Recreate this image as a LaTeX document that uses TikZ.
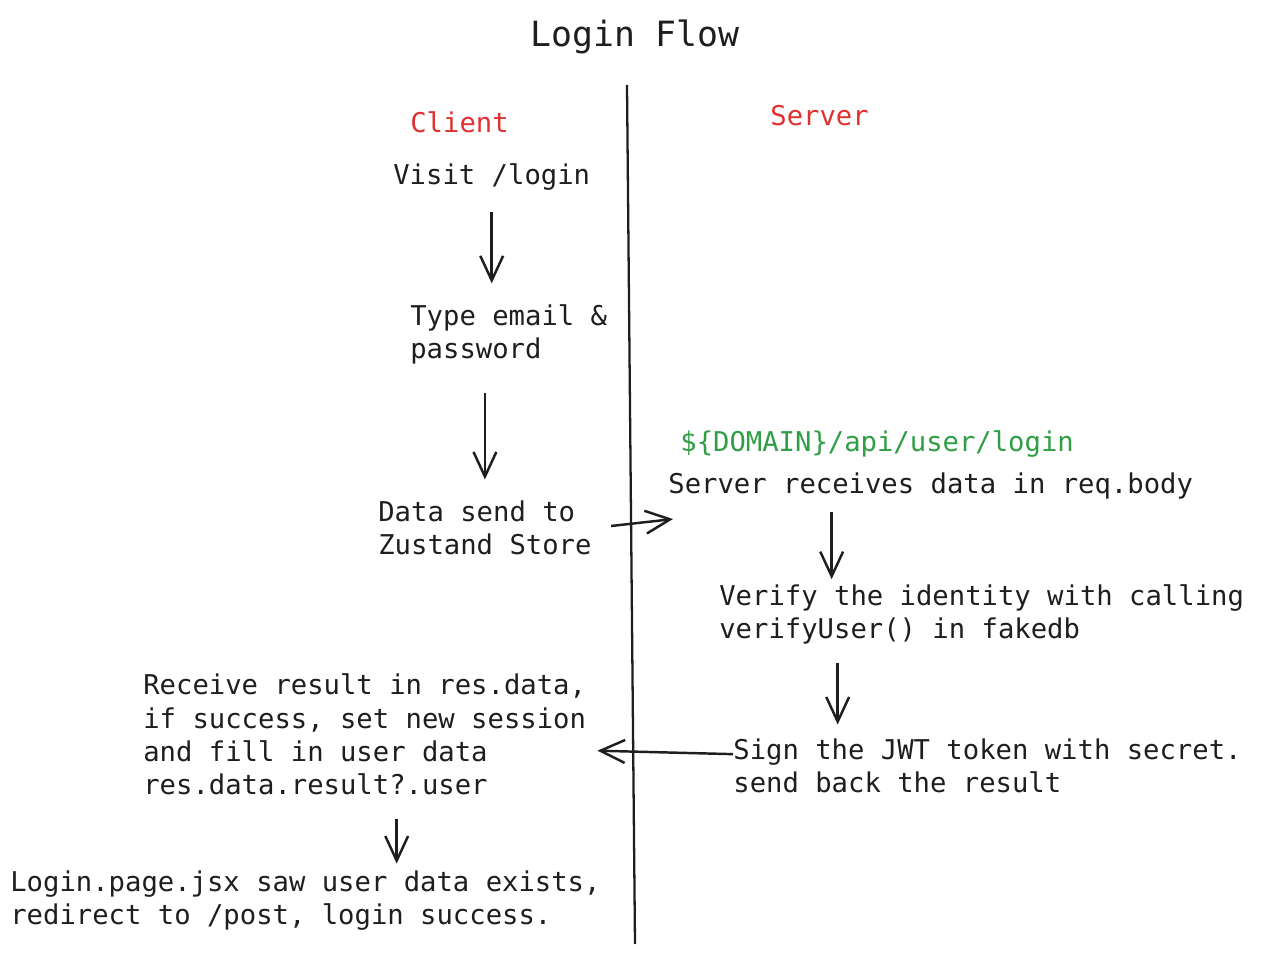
\documentclass[tikz,border=0pt]{standalone}
\usepackage{fontspec}
\setmonofont{DejaVu Sans Mono}
\usepackage{xcolor}
\usepackage{tikz}
\usetikzlibrary{positioning,arrows.meta}

\definecolor{inkblack}{HTML}{1E1E1E}
\definecolor{sidered}{HTML}{E03131}
\definecolor{apigreen}{HTML}{2F9E44}

\tikzset{
  txt/.style={inner sep=0pt, anchor=base west, align=left, text=inkblack,
    font=\ttfamily\fontsize{15.5}{19}\selectfont},
  flow/.style={-{Straight Barb[length=14pt,width=13pt]}, line width=1.4pt, draw=inkblack}
}

\begin{document}
\begin{tikzpicture}[x=0.02cm,y=-0.02cm]
\useasboundingbox (0,0) rectangle (1269,955);

% Title
\node[inner sep=0pt, anchor=base, text=inkblack, font=\ttfamily\fontsize{19.8}{24}\selectfont] (title) at (635,47) {Login Flow};

% Divider
\coordinate (divtop) at (627,85);
\coordinate (divbot) at (635,944);
\draw[inkblack, line width=1.3pt] (divtop) -- (divbot);

% Sides
\node[txt, text=sidered] (client) at (410,133) {Client};
\node[txt, text=sidered] (server) at (770,126) {Server};

% Client steps (base = last line)
\node[txt] (visit) at (393,185) {Visit /login};
\node[txt] (type) at (410,359) {Type email \&\\password};
\node[txt] (data) at (378,555) {Data send to\\Zustand Store};

% Server steps
\node[txt, text=apigreen] (route) at (680,452) {\$\{DOMAIN\}/api/user/login};
\node[txt] (recv) at (668,494) {Server receives data in req.body};
\node[txt] (verify) at (719,639) {Verify the identity with calling\\verifyUser() in fakedb};
\node[txt] (sign) at (733,793) {Sign the JWT token with secret.\\send back the result};

% Back on the client
\node[txt] (receive) at (143,795) {Receive result in res.data,\\if success, set new session\\and fill in user data\\res.data.result?.user};
\node[txt] (login) at (10,925) {Login.page.jsx saw user data exists,\\redirect to /post, login success.};

% Arrows
\draw[flow, shorten <=12pt, shorten >=12pt] (visit.south) -- (visit.south |- type.north);
\draw[flow, shorten <=16pt, shorten >=12pt] (data.north |- type.south) -- (data.north);
\draw[flow, shorten <=11pt] (data.east) -- ([shift={(5,19)}]recv.south west);
\draw[flow, shorten <=7pt, shorten >=3pt] ([shift={(-99,0)}]recv.south) -- ([shift={(-99,0)}]recv.south |- verify.north);
\draw[flow, shorten <=10pt, shorten >=8pt] ([shift={(-144,0)}]verify.south) -- ([shift={(-144,0)}]verify.south |- sign.north);
\draw[flow] ([shift={(0,-12)}]sign.west) -- ([shift={(11,16)}]receive.east);
\draw[flow, shorten <=13pt, shorten >=4pt] ([shift={(32,0)}]receive.south) -- ([shift={(32,0)}]receive.south |- login.north);
\end{tikzpicture}
\end{document}
